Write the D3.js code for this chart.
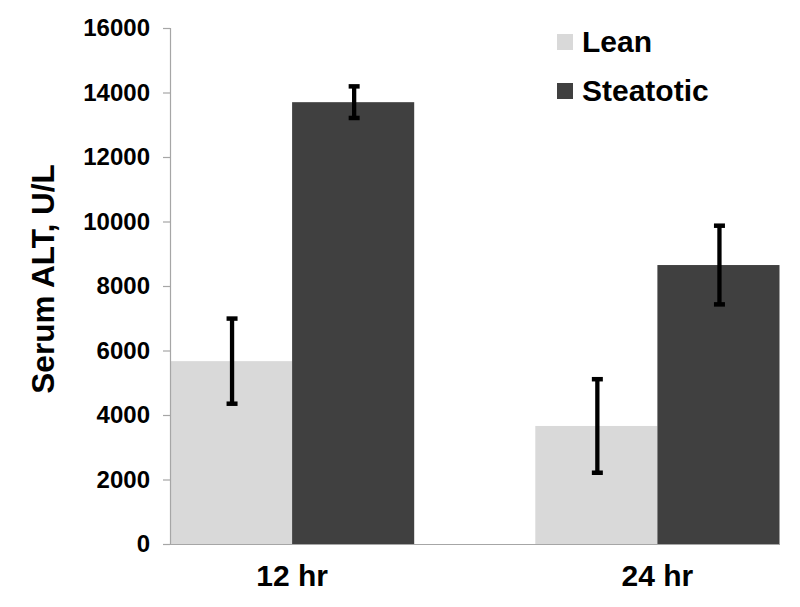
<!DOCTYPE html>
<html>
<head>
<meta charset="utf-8">
<script src="https://cdn.jsdelivr.net/npm/d3@7"></script>
<style>
  html, body { margin: 0; padding: 0; background: #fff; }
  svg { display: block; font-family: "Liberation Sans", Arial, sans-serif; }
</style>
</head>
<body>
<svg id="chart" width="800" height="607"></svg>
<script>
const categories = ["12 hr", "24 hr"];
const seriesNames = ["Lean", "Steatotic"];
const leanValues = [5670, 3660];
const leanErrors = [1320, 1450];
const steatoticValues = [13700, 8650];
const steatoticErrors = [490, 1220];
const yTicks = [0, 2000, 4000, 6000, 8000, 10000, 12000, 14000, 16000];
const colors = ["#d9d9d9", "#404040"];

const svg = d3.select("#chart");
const x0 = 170, x1 = 779.5, yBottom = 544, yTop = 28;

const x = d3.scaleBand().domain(categories).range([x0, x1])
  .paddingInner(121 / 365).paddingOuter(0);
const xs = d3.scaleBand().domain(seriesNames).range([0, x.bandwidth()]).padding(0);
const y = d3.scaleLinear().domain([0, 16000]).range([yBottom, yTop]);

const rows = [];
categories.forEach((c, i) => {
  rows.push({cat: c, s: "Lean", v: leanValues[i], e: leanErrors[i], color: colors[0]});
  rows.push({cat: c, s: "Steatotic", v: steatoticValues[i], e: steatoticErrors[i], color: colors[1]});
});

// bars
svg.append("g").selectAll("rect").data(rows).join("rect")
  .attr("x", d => x(d.cat) + xs(d.s))
  .attr("width", xs.bandwidth())
  .attr("y", d => y(d.v))
  .attr("height", d => y(0) - y(d.v))
  .attr("fill", d => d.color);

// y axis
const yAxis = svg.append("g").attr("transform", `translate(${x0},0)`)
  .call(d3.axisLeft(y).tickValues(yTicks).tickSize(7).tickPadding(13).tickFormat(d3.format("d")));
yAxis.select(".domain").attr("stroke", "#a6a6a6").attr("stroke-width", 1.2);
yAxis.selectAll(".tick line").attr("stroke", "#a6a6a6").attr("stroke-width", 1.2);
yAxis.selectAll(".tick text").attr("fill", "#000").attr("font-size", 24)
  .attr("font-weight", "bold").attr("font-family", "Liberation Sans, Arial, sans-serif");

// x axis
const xAxis = svg.append("g").attr("transform", `translate(0,${yBottom})`)
  .call(d3.axisBottom(x).tickSize(0).tickPadding(21));
xAxis.select(".domain").attr("stroke", "#a6a6a6").attr("stroke-width", 1.2);
xAxis.selectAll(".tick text").attr("fill", "#000").attr("font-size", 30)
  .attr("font-weight", "bold").attr("font-family", "Liberation Sans, Arial, sans-serif");

// error bars
const eb = svg.append("g").selectAll("g").data(rows).join("g")
  .attr("transform", d => `translate(${x(d.cat) + xs(d.s) + xs.bandwidth() / 2 + 1},0)`);
eb.append("line").attr("x1", 0).attr("x2", 0)
  .attr("y1", d => y(d.v + d.e)).attr("y2", d => y(d.v - d.e))
  .attr("stroke", "#000").attr("stroke-width", 4.3);
eb.append("line").attr("x1", -5.5).attr("x2", 5.5)
  .attr("y1", d => y(d.v + d.e)).attr("y2", d => y(d.v + d.e))
  .attr("stroke", "#000").attr("stroke-width", 4.5);
eb.append("line").attr("x1", -5.5).attr("x2", 5.5)
  .attr("y1", d => y(d.v - d.e)).attr("y2", d => y(d.v - d.e))
  .attr("stroke", "#000").attr("stroke-width", 4.5);

// y label
svg.append("text")
  .attr("transform", "translate(54,279) rotate(-90)")
  .attr("text-anchor", "middle")
  .attr("font-size", 31.5).attr("font-weight", "bold").attr("fill", "#000")
  .text("Serum ALT, U/L");

// legend
const lg = svg.append("g").selectAll("g").data(seriesNames).join("g")
  .attr("transform", (d, i) => `translate(557,${34 + i * 49})`);
lg.append("rect").attr("width", 16).attr("height", 16)
  .attr("fill", (d, i) => colors[i]);
lg.append("text").attr("x", 25).attr("y", 18)
  .attr("font-size", 30).attr("font-weight", "bold").attr("fill", "#000")
  .text(d => d);
</script>
</body>
</html>
